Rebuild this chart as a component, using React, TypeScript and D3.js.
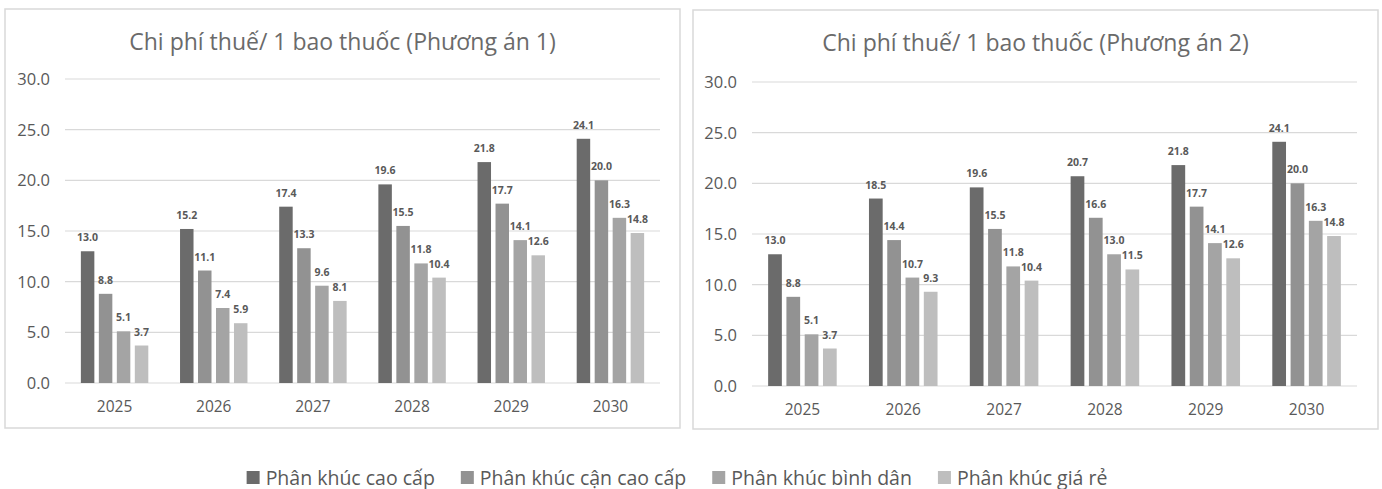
import React, { useEffect, useRef } from 'react';
import * as d3 from 'd3';

const categories = ['2025', '2026', '2027', '2028', '2029', '2030'];
const seriesNames = ['Phân khúc cao cấp', 'Phân khúc cận cao cấp', 'Phân khúc bình dân', 'Phân khúc giá rẻ'];
const seriesColors = ['#6b6b6b', '#929292', '#a4a4a4', '#bebebe'];

const pa1CaoCap = [13.0, 15.2, 17.4, 19.6, 21.8, 24.1];
const pa1CanCaoCap = [8.8, 11.1, 13.3, 15.5, 17.7, 20.0];
const pa1BinhDan = [5.1, 7.4, 9.6, 11.8, 14.1, 16.3];
const pa1GiaRe = [3.7, 5.9, 8.1, 10.4, 12.6, 14.8];

const pa2CaoCap = [13.0, 18.5, 19.6, 20.7, 21.8, 24.1];
const pa2CanCaoCap = [8.8, 14.4, 15.5, 16.6, 17.7, 20.0];
const pa2BinhDan = [5.1, 10.7, 11.8, 13.0, 14.1, 16.3];
const pa2GiaRe = [3.7, 9.3, 10.4, 11.5, 12.6, 14.8];

const yTicks = [0, 5, 10, 15, 20, 25, 30];

const titles = ['Chi phí thuế/ 1 bao thuốc (Phương án 1)', 'Chi phí thuế/ 1 bao thuốc (Phương án 2)'];

const FONT = "'Open Sans', 'Noto Sans', sans-serif";

export default function App() {
  const ref = useRef<SVGSVGElement | null>(null);

  useEffect(() => {
    const svg = d3.select(ref.current);
    svg.selectAll('*').remove();

    const panels = [
      { box: [5, 9, 680, 428], plot: [65, 660], yr: [383, 79], data: [pa1CaoCap, pa1CanCaoCap, pa1BinhDan, pa1GiaRe], title: titles[0], titleY: 50 },
      { box: [693, 10, 1378, 429], plot: [752, 1357], yr: [386, 82], data: [pa2CaoCap, pa2CanCaoCap, pa2BinhDan, pa2GiaRe], title: titles[1], titleY: 51 },
    ];

    panels.forEach((p) => {
      const g = svg.append('g');
      g.append('rect')
        .attr('x', p.box[0]).attr('y', p.box[1])
        .attr('width', p.box[2] - p.box[0]).attr('height', p.box[3] - p.box[1])
        .attr('fill', '#fff').attr('stroke', '#d9d9d9').attr('stroke-width', 1.5);

      g.append('text')
        .attr('x', (p.box[0] + p.box[2]) / 2).attr('y', p.titleY)
        .attr('text-anchor', 'middle')
        .attr('font-family', FONT).attr('font-size', 23)
        .attr('fill', '#6a6a6a')
        .text(p.title);

      const y = d3.scaleLinear().domain([0, 30]).range(p.yr);
      const x0 = d3.scaleBand<string>().domain(categories).range(p.plot as [number, number]).paddingInner(0.32).paddingOuter(0.16);
      const x1 = d3.scaleBand<string>().domain(seriesNames).range([0, x0.bandwidth()]).paddingInner(0.25).paddingOuter(0);

      g.selectAll('line.grid').data(yTicks).enter().append('line')
        .attr('x1', p.plot[0]).attr('x2', p.plot[1])
        .attr('y1', (d) => y(d)).attr('y2', (d) => y(d))
        .attr('stroke', '#d9d9d9').attr('stroke-width', 1.2);

      g.selectAll('text.ytick').data(yTicks).enter().append('text')
        .attr('x', p.plot[0] - 15).attr('y', (d) => y(d) + 6)
        .attr('text-anchor', 'end')
        .attr('font-family', FONT).attr('font-size', 16.5)
        .attr('fill', '#595959')
        .text((d) => d3.format('.1f')(d));

      g.selectAll('text.xtick').data(categories).enter().append('text')
        .attr('x', (d) => (x0(d) as number) + x0.bandwidth() / 2)
        .attr('y', p.yr[0] + 29)
        .attr('text-anchor', 'middle')
        .attr('font-family', FONT).attr('font-size', 15.5)
        .attr('fill', '#595959')
        .text((d) => d);

      p.data.forEach((vals, si) => {
        const sname = seriesNames[si];
        g.selectAll(null).data(vals).enter().append('rect')
          .attr('x', (_, i) => (x0(categories[i]) as number) + (x1(sname) as number))
          .attr('y', (d) => y(d))
          .attr('width', x1.bandwidth())
          .attr('height', (d) => y(0) - y(d))
          .attr('fill', seriesColors[si]);
      });
      p.data.forEach((vals, si) => {
        const sname = seriesNames[si];
        g.selectAll(null).data(vals).enter().append('text')
          .attr('x', (_, i) => (x0(categories[i]) as number) + (x1(sname) as number) + x1.bandwidth() / 2)
          .attr('y', (d) => y(d) - 10)
          .attr('text-anchor', 'middle')
          .attr('font-family', FONT).attr('font-size', 10.5).attr('font-weight', 700)
          .attr('fill', '#595959')
          .text((d) => d3.format('.1f')(d));
      });
    });

    // legend
    const lg = svg.append('g');
    const items = seriesNames.map((name, i) => {
      const it = lg.append('g');
      it.append('rect').attr('x', 0).attr('y', -6.5).attr('width', 13).attr('height', 13).attr('fill', seriesColors[i]);
      const t = it.append('text').attr('x', 19).attr('y', 7)
        .attr('font-family', FONT).attr('font-size', 19.5).attr('fill', '#595959').text(name);
      const w = 19 + (t.node() as SVGTextElement).getComputedTextLength();
      return { it, w };
    });
    const gap = 26;
    const total = items.reduce((s, d) => s + d.w, 0) + gap * (items.length - 1);
    let cx = 677 - total / 2;
    items.forEach((d) => {
      d.it.attr('transform', `translate(${cx},477.5)`);
      cx += d.w + gap;
    });
  }, []);

  return (
    <svg ref={ref} width={1382} height={489} style={{ position: 'absolute', left: 0, top: 0, background: '#fff' }} />
  );
}
